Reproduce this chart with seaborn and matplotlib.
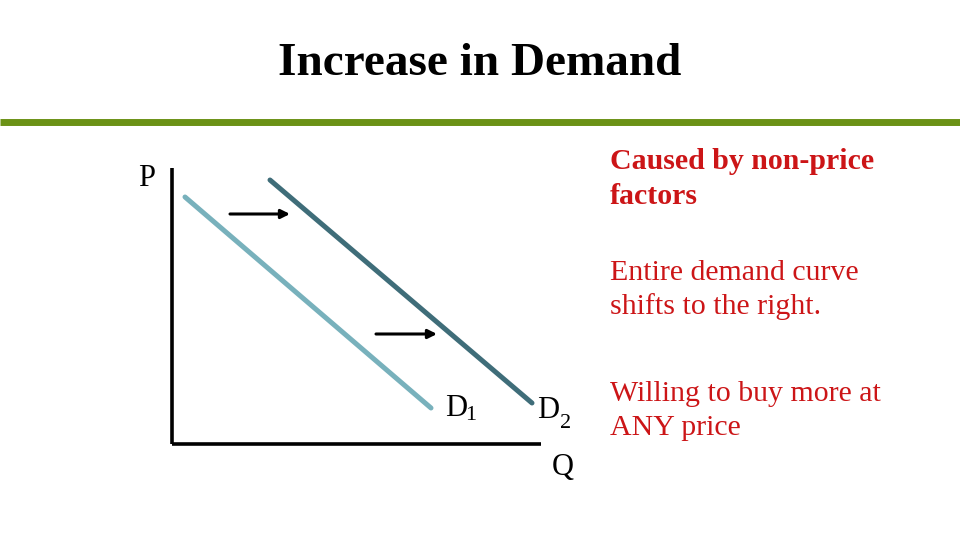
import matplotlib
matplotlib.use("Agg")
import matplotlib.pyplot as plt
import seaborn as sns
import pandas as pd

sns.set_theme(style="white")
plt.rcParams['font.family'] = ['Liberation Serif', 'DejaVu Serif']

# Data (pixel-space coordinates of the schematic; y grows downward)
d1_q = [185, 431]
d1_p = [197, 408]
d2_q = [270, 532]
d2_p = [180, 403]
arrow_start_q = [230, 376]
arrow_end_q = [290, 437]
arrow_p = [214, 334]
axis_origin = (172, 444)
axis_top = 168
axis_right = 541

title = "Increase in Demand"
notes = ["Caused by non-price\nfactors",
         "Entire demand curve\nshifts to the right.",
         "Willing to buy more at\nANY price"]
notes_y = [179, 290, 411]
notes_bold = [True, False, False]

df = pd.concat([
    pd.DataFrame({"Q": d1_q, "P": d1_p, "curve": "D1"}),
    pd.DataFrame({"Q": d2_q, "P": d2_p, "curve": "D2"}),
])

fig = plt.figure(figsize=(9.6, 5.4), dpi=100)
ax = fig.add_axes([0, 0, 1, 1])
ax.set_xlim(0, 960)
ax.set_ylim(540, 0)
ax.axis("off")

sns.lineplot(data=df, x="Q", y="P", hue="curve",
             palette={"D1": "#78b1bc", "D2": "#3f6d79"},
             linewidth=3.6, legend=False, ax=ax, solid_capstyle="round")

# axes of the diagram
ox, oy = axis_origin
ax.plot([ox, ox], [axis_top, oy], color="black", lw=2.6, solid_capstyle="butt")
ax.plot([ox, axis_right], [oy, oy], color="black", lw=2.6, solid_capstyle="butt")

# arrows
for xs, xe, yy in zip(arrow_start_q, arrow_end_q, arrow_p):
    ax.annotate("", xy=(xe, yy), xytext=(xs, yy),
                arrowprops=dict(arrowstyle="-|>", color="black", lw=2.2,
                                mutation_scale=13, shrinkA=0, shrinkB=0))

# green rule
ax.plot([0, 960], [122, 122], color="#6b9216", lw=5, solid_capstyle="butt")

# title
ax.text(480, 64, title, ha="center", va="center", fontsize=34,
        fontweight="bold", color="black")

# axis labels
lab = dict(color="black", fontsize=22)
ax.text(147, 178, "P", ha="center", va="center", **lab)
ax.text(563, 468, "Q", ha="center", va="center", **lab)
ax.text(456, 408, "D", ha="center", va="center", **lab)
ax.text(471, 416, "1", ha="center", va="center", color="black", fontsize=16)
ax.text(548, 410, "D", ha="center", va="center", **lab)
ax.text(566, 424, "2", ha="center", va="center", color="black", fontsize=16)

for txt, yy, b in zip(notes, notes_y, notes_bold):
    ax.text(610, yy, txt, ha="left", va="center", fontsize=21.5,
            color="#cc1517", fontweight="bold" if b else "normal",
            linespacing=1.36)

fig.savefig("out.png", dpi=100)
